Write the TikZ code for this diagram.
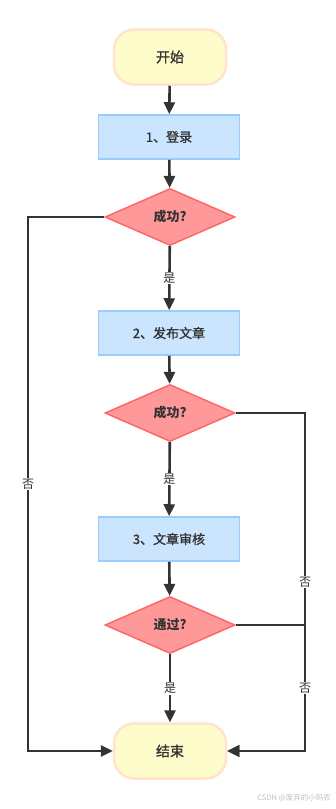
\documentclass[tikz,border=0pt]{standalone}
\usepackage{fontspec}
\setmainfont{Noto Sans CJK SC}
\newfontfamily\medfont[FakeBold=1.2]{Noto Sans CJK SC}
\usetikzlibrary{shapes.geometric,arrows.meta}
\definecolor{termfill}{HTML}{FFFCCC}
\definecolor{termdraw}{HTML}{FFE3CC}
\definecolor{procfill}{HTML}{CCE5FF}
\definecolor{procdraw}{HTML}{99CCFF}
\definecolor{decfill}{HTML}{FF9999}
\definecolor{decdraw}{HTML}{FF6666}
\definecolor{linec}{HTML}{333333}
\tikzset{
  term/.style={rectangle, rounded corners=20pt, fill=termfill, draw=termdraw, line width=2.5pt, minimum width=112pt, minimum height=55pt, font=\medfont\fontsize{14}{16}\selectfont, text=linec},
  proc/.style={rectangle, fill=procfill, draw=procdraw, line width=1.5pt, minimum width=141pt, minimum height=44pt, font=\medfont\fontsize{13}{15}\selectfont, text=linec},
  dec/.style={diamond, fill=decfill, draw=decdraw, line width=1.5pt, minimum width=130pt, minimum height=57pt, inner sep=0pt, font=\fontsize{13}{15}\selectfont\bfseries, text=linec},
  arr/.style={draw=linec, line width=2.6pt, -{Triangle[length=12pt,width=11pt]}},
  lbl/.style={fill=white, inner sep=1pt, font=\fontsize{12}{14}\selectfont, text=linec}
}
\begin{document}
\begin{tikzpicture}[x=1pt,y=-1pt]
\useasboundingbox (0,0) rectangle (335,809);
\node[term] (start) at (170,57) {开始};
\node[proc] (s1) at (169,137) {1、登录};
\node[dec] (d1) at (170,217) {成功?};
\node[proc] (s2) at (169,333) {2、发布文章};
\node[dec] (d2) at (170,413) {成功?};
\node[proc] (s3) at (169,539) {3、文章审核};
\node[dec] (d3) at (170,625) {通过?};
\node[term] (end) at (170,751) {结束};
\coordinate (l1) at (28,217);
\coordinate (r1) at (305,413);
\coordinate (r2) at (305,625);
\draw[arr] (start) -- (s1);
\draw[arr] (s1) -- (d1);
\draw[arr] (d1) -- node[lbl]{是} (s2);
\draw[arr] (s2) -- (d2);
\draw[arr] (d2) -- node[lbl]{是} (s3);
\draw[arr] (s3) -- (d3);
\draw[arr] (d3) -- node[lbl]{是} (end);
\draw[arr] (d1.west) -- (l1) -- node[lbl]{否} (l1 |- end.west) -- (end.west);
\draw[arr] (d2.east) -- (r1) -- node[lbl]{否} (r1 |- end.east) -- (end.east);
\draw[arr] (d3.east) -- (r2) -- node[lbl]{否} (r2 |- end.east) -- (end.east);
\node[anchor=east, text=black!25, font=\fontsize{7.5}{9}\selectfont, inner sep=0pt] (wm) at (331,798) {CSDN @废弃的小码农};
\end{tikzpicture}
\end{document}
